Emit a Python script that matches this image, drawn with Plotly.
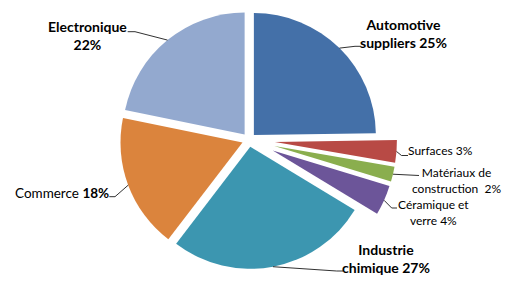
import math
import plotly.graph_objects as go

# ---- data ----
labels = ["Automotive suppliers", "Surfaces", "Matériaux de construction",
          "Céramique et verre", "Industrie chimique", "Commerce", "Electronique"]
values = [25, 3, 2, 4, 27, 18, 22]
label_texts = ["<b>Automotive<br>suppliers 25%</b>", "Surfaces 3%",
               "Matériaux de<br>construction  2%", "Céramique et<br>verre 4%",
               "<b>Industrie<br>chimique 27%</b>", "Commerce <b>18%</b>",
               "<b>Electronique<br>22%</b>"]

# ---- style ----
colors = ["#4470A8", "#B84A45", "#8AAE4E", "#6C5599", "#3C96B0", "#DB843D", "#93A9CF"]
pulls = [0.057, 0.213, 0.213, 0.213, 0.057, 0.057, 0.057]
font_sizes = [14, 12, 12, 12, 14, 13.5, 14]
W, H = 515, 288
CX, CY, R = 249, 140, 122
TRANSP = "rgba(0,0,0,0)"
FONT = "Lato"

# label centers (px) and leader-line elbow/end points (px)
label_pos = [(403, 33.5), (440, 150.5), (456, 180.2), (433, 212.4),
             (385.7, 258.2), (61.5, 193.3), (87.5, 35.8)]
leader_pts = [[(355, 46.3), (361, 46.3)],
              [(401.5, 155.5), (408, 155.5)],
              [(419, 175.5)],
              [(391.7, 208), (397, 208)],
              [(336.7, 271), (343, 271)],
              [(115, 196.7), (109.3, 196.7)],
              [(135, 31.7), (127.7, 31.7)]]


def domain(cx, cy, half):
    return dict(x=[(cx - half) / W, (cx + half) / W],
                y=[1 - (cy + half) / H, 1 - (cy - half) / H])


total = sum(values)
mids = []
acc = 0
for v in values:
    mids.append((acc + v / 2) / total * 2 * math.pi)
    acc += v

small = [i for i, p in enumerate(pulls) if p > 0.1]
main = [i for i in range(len(values)) if i not in small]
p_main = max(pulls[i] for i in main)

fig = go.Figure()

# main slices, pulled by plotly itself
fig.add_trace(go.Pie(
    labels=labels, values=values, sort=False, direction="clockwise", rotation=0,
    pull=[pulls[i] if i in main else 0 for i in range(len(values))],
    marker=dict(colors=[colors[i] if i in main else TRANSP for i in range(len(values))],
                line=dict(width=0)),
    textinfo="none", hoverinfo="skip", showlegend=False,
    domain=domain(CX, CY, R * (1 + p_main)),
))

# strongly exploded small slices: same pie, shifted along their bisector
centers = {}
for i in range(len(values)):
    d = pulls[i] * R
    centers[i] = (CX + d * math.sin(mids[i]), CY - d * math.cos(mids[i]))

for i in small:
    cx, cy = centers[i]
    fig.add_trace(go.Pie(
        labels=labels, values=values, sort=False, direction="clockwise", rotation=0,
        marker=dict(colors=[colors[j] if j == i else TRANSP for j in range(len(values))],
                    line=dict(width=0)),
        textinfo="none", hoverinfo="skip", showlegend=False,
        domain=domain(cx, cy, R),
    ))

shapes = []
annotations = []
for i in range(len(values)):
    cx, cy = centers[i]
    ax, ay = cx + R * math.sin(mids[i]), cy - R * math.cos(mids[i])
    pts = [(ax, ay)] + leader_pts[i]
    for (x0, y0), (x1, y1) in zip(pts[:-1], pts[1:]):
        shapes.append(dict(type="line", xref="paper", yref="paper",
                           x0=x0 / W, y0=1 - y0 / H, x1=x1 / W, y1=1 - y1 / H,
                           line=dict(color="#1a1a1a", width=0.9)))
    lx, ly = label_pos[i]
    annotations.append(dict(
        text=label_texts[i], xref="paper", yref="paper", x=lx / W, y=1 - ly / H,
        xanchor="center", yanchor="middle", align="center", showarrow=False,
        font=dict(family=FONT, size=font_sizes[i], color="#000000"),
    ))

fig.update_layout(
    width=W, height=H, margin=dict(l=0, r=0, t=0, b=0),
    paper_bgcolor="white", plot_bgcolor="white",
    shapes=shapes, annotations=annotations, showlegend=False,
)

fig.write_html("out.html")
